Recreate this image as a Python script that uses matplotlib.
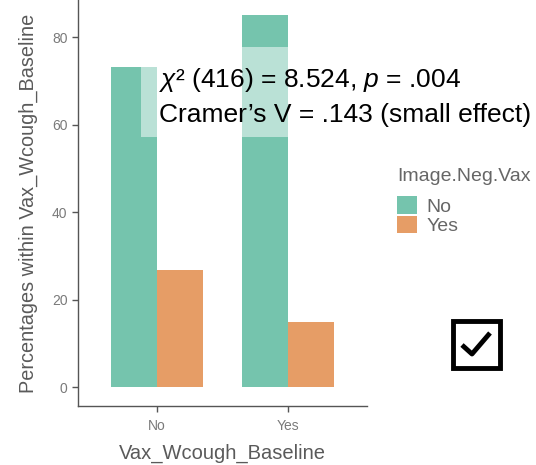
import numpy as np
import matplotlib
matplotlib.use('Agg')
import matplotlib.pyplot as plt
from matplotlib.patches import Rectangle
from matplotlib.lines import Line2D

# percentages of Image.Neg.Vax within each Vax_Wcough_Baseline group
groups = ['No', 'Yes']
levels = ['No', 'Yes']
pct_no = [73.1, 85.1]
pct_yes = [26.9, 14.9]
colors = ['#75C4AD', '#E69D66']

plt.rcParams['font.family'] = ['Liberation Sans', 'DejaVu Sans']
plt.rcParams['mathtext.fontset'] = 'custom'
plt.rcParams['mathtext.rm'] = 'Liberation Sans'
plt.rcParams['mathtext.it'] = 'Liberation Sans:italic'

W, H = 536, 465
fig = plt.figure(figsize=(W / 100, H / 100), dpi=100)
ax = fig.add_axes([78 / W, 59 / H, 289 / W, 406 / H])

x = np.arange(len(groups))
bw = 0.35
ax.bar(x - bw / 2, pct_no, width=bw, color=colors[0], label=levels[0])
ax.bar(x + bw / 2, pct_yes, width=bw, color=colors[1], label=levels[1])

ax.set_xlim(-0.6, 1.6)
ax.set_ylim(-4.3, 88.5)
ax.set_xticks(x)
ax.set_xticklabels(groups)
ax.set_yticks(range(0, 81, 20))
for s in ['top', 'right']:
    ax.spines[s].set_visible(False)
for s in ['left', 'bottom']:
    ax.spines[s].set_color('#555555')
    ax.spines[s].set_linewidth(1.0)
ax.tick_params(colors='#555555', labelcolor='#7a7a7a', labelsize=10,
               length=4, width=1.0)
ax.tick_params(axis='x', pad=5)
ax.set_xlabel('Vax_Wcough_Baseline', fontsize=14.5, color='#5a5a5a',
              labelpad=8)
ax.set_ylabel('Percentages within Vax_Wcough_Baseline', fontsize=14.3,
              color='#5a5a5a', labelpad=10)

# translucent panel behind the test statistics
fig.patches.append(Rectangle((141 / W, 1 - 137 / H), 1 - 141 / W, 90 / H,
                             transform=fig.transFigure, facecolor='white',
                             alpha=0.5, edgecolor='none', zorder=5))
fig.text(159 / W, 1 - 80 / H,
         r'$\chi$² (416) = 8.524, $\it{p}$ = .004',
         fontsize=19, va='center', ha='left', color='black', zorder=6)
fig.text(159 / W, 1 - 115 / H, 'Cramer\u2019s V = .143 (small effect)',
         fontsize=19, va='center', ha='left', color='black', zorder=6)

leg = ax.legend(title='Image.Neg.Vax', loc='upper left',
                bbox_to_anchor=(397 / W, 1 - 168 / H),
                bbox_transform=fig.transFigure, frameon=False,
                fontsize=14, title_fontsize=14, handlelength=1.03,
                handleheight=1.03, handletextpad=0.5, labelspacing=0.0,
                borderaxespad=0, borderpad=0.0, alignment='left')
leg._legend_box.sep = 8
for t in leg.get_texts():
    t.set_color('#666666')
leg.get_title().set_color('#666666')

# check box mark
fig.patches.append(Rectangle((453 / W, 1 - 368 / H), 47 / W, 47 / H,
                             transform=fig.transFigure, facecolor='white',
                             edgecolor='black', linewidth=3.5))
fig.lines.append(Line2D([462 / W, 472 / W, 490 / W],
                        [1 - 345 / H, 1 - 354 / H, 1 - 333 / H],
                        transform=fig.transFigure, color='black',
                        linewidth=3.5, solid_capstyle='butt'))

fig.savefig('out.png', dpi=100)
